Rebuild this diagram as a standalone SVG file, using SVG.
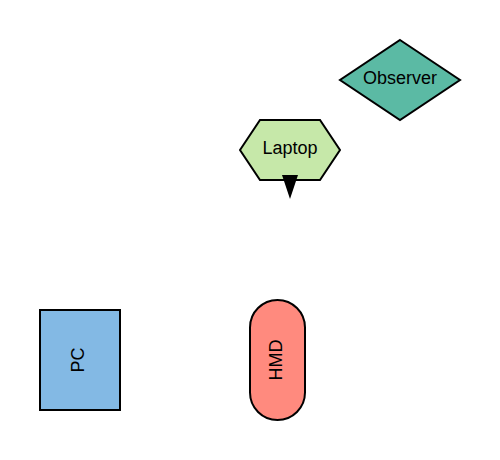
<svg xmlns="http://www.w3.org/2000/svg" width="500" height="460" viewBox="0 0 500 460">
<style>
.n{stroke:#000;stroke-width:2}
.t{font-family:"Liberation Sans",Arial,sans-serif;font-size:18px;fill:#000;text-anchor:middle;dominant-baseline:central}
</style>
<rect width="500" height="460" fill="#fff"/>
<g id="observer"><polygon class="n" points="400,40 460,80 400,120 340,80" fill="#5bbaa4"/><text class="t" x="400" y="78">Observer</text></g>
<g id="laptop"><polygon class="n" points="240,150 260,120 320,120 340,150 320,180 260,180" fill="#c6e8a9"/><text class="t" x="290" y="148">Laptop</text></g>
<g id="pc"><rect class="n" x="40" y="310" width="80" height="100" fill="#83b9e4"/><text class="t" transform="translate(78,360) rotate(-90)">PC</text></g>
<g id="hmd"><rect class="n" x="250" y="300" width="55" height="120" rx="27.5" fill="#ff8a7e"/><text class="t" transform="translate(276,360) rotate(-90)">HMD</text></g>
<g id="connectors"><polygon points="282,175 298,175 290,199" fill="#000"/></g>
</svg>
